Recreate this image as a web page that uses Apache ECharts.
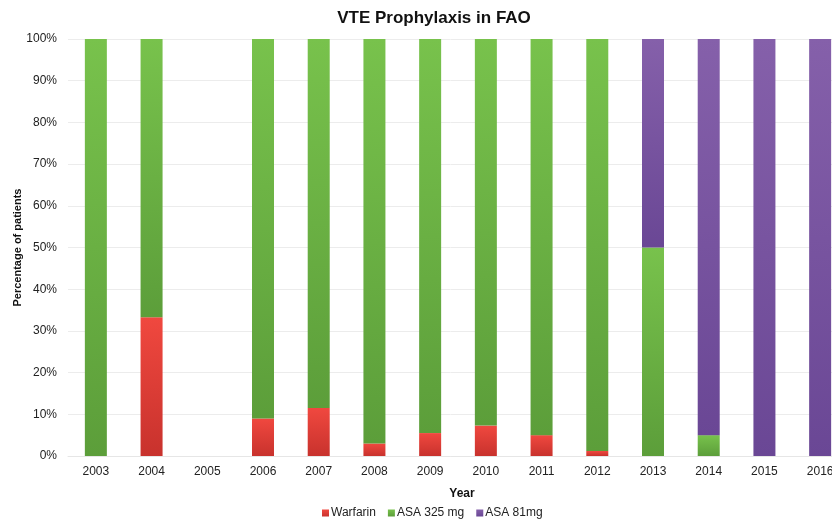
<!DOCTYPE html>
<html>
<head>
<meta charset="utf-8">
<script src="https://cdn.jsdelivr.net/npm/echarts@6/dist/echarts.min.js"></script>
<style>
  html, body { margin: 0; padding: 0; background: #fff; }
  #chart { width: 832px; height: 524px; }
</style>
</head>
<body>
<div id="chart"></div>
<script>
var years = ['2003', '2004', '2005', '2006', '2007', '2008', '2009', '2010', '2011', '2012', '2013', '2014', '2015', '2016'];
var warfarin = [0, 33.3, null, 9, 11.5, 3, 5.5, 7.3, 5, 1.2, 0, 0, 0, 0];
var asa325 = [100, 66.7, null, 91, 88.5, 97, 94.5, 92.7, 95, 98.8, 50, 5, 0, 0];
var asa81 = [0, 0, null, 0, 0, 0, 0, 0, 0, 0, 50, 95, 100, 100];
var yTicks = [0, 10, 20, 30, 40, 50, 60, 70, 80, 90, 100];

function grad(top, bottom) {
    return new echarts.graphic.LinearGradient(0, 0, 0, 1, [
        { offset: 0, color: top },
        { offset: 1, color: bottom }
    ]);
}

var chart = echarts.init(document.getElementById('chart'));
var font = 'Liberation Sans, Arial, sans-serif';

var option = {
    animation: false,
    textStyle: { fontFamily: font },
    title: {
        text: 'VTE Prophylaxis in FAO',
        left: 429,
        textAlign: 'center',
        top: 5,
        textStyle: { fontSize: 17, fontWeight: 'bold', color: '#111', fontFamily: font }
    },
    legend: {
        bottom: 0,
        left: 317,
        itemWidth: 7,
        itemHeight: 7,
        itemGap: 12,
        icon: 'rect',
        textStyle: { fontSize: 12, color: '#222', fontFamily: font, padding: [0, 0, 0, -3] },
        data: ['Warfarin', 'ASA 325 mg', 'ASA 81mg']
    },
    grid: {
        left: 68,
        width: 780,
        top: 39,
        bottom: 68,
        containLabel: false,
        outerBoundsMode: 'none'
    },
    xAxis: {
        type: 'category',
        data: years,
        name: 'Year',
        nameLocation: 'middle',
        nameGap: 32,
        nameMoveOverlap: false,
        nameTextStyle: { fontSize: 12, fontWeight: 'bold', color: '#111', fontFamily: font, padding: [0, 0, 0, 8] },
        axisLine: { show: true, lineStyle: { color: '#e6e6e6' } },
        axisTick: { show: false },
        axisLabel: { fontSize: 12, color: '#222', margin: 10, fontFamily: font }
    },
    yAxis: {
        type: 'value',
        min: 0,
        max: 100,
        interval: 10,
        name: 'Percentage of patients',
        nameLocation: 'middle',
        nameGap: 45,
        nameMoveOverlap: false,
        nameTextStyle: { fontSize: 11, fontWeight: 'bold', color: '#111', fontFamily: font },
        axisLine: { show: false },
        axisTick: { show: false },
        axisLabel: {
            fontSize: 12, color: '#222', margin: 11, fontFamily: font,
            formatter: function (v) { return yTicks.indexOf(v) >= 0 ? v + '%' : ''; }
        },
        splitLine: { lineStyle: { color: '#ececec', width: 1 } }
    },
    series: [{
        name: 'Warfarin',
        type: 'bar',
        stack: 'total',
        barWidth: 22,
        data: warfarin,
        itemStyle: { color: grad('#f0483f', '#c8322d') }
    }, {
        name: 'ASA 325 mg',
        type: 'bar',
        stack: 'total',
        barWidth: 22,
        data: asa325,
        itemStyle: { color: grad('#78c24c', '#5c9e3a') }
    }, {
        name: 'ASA 81mg',
        type: 'bar',
        stack: 'total',
        barWidth: 22,
        data: asa81,
        itemStyle: { color: grad('#8560aa', '#6a4795') }
    }],
    color: ['#e8403a', '#6fb443', '#7a55a3']
};
chart.setOption(option);
</script>
</body>
</html>
